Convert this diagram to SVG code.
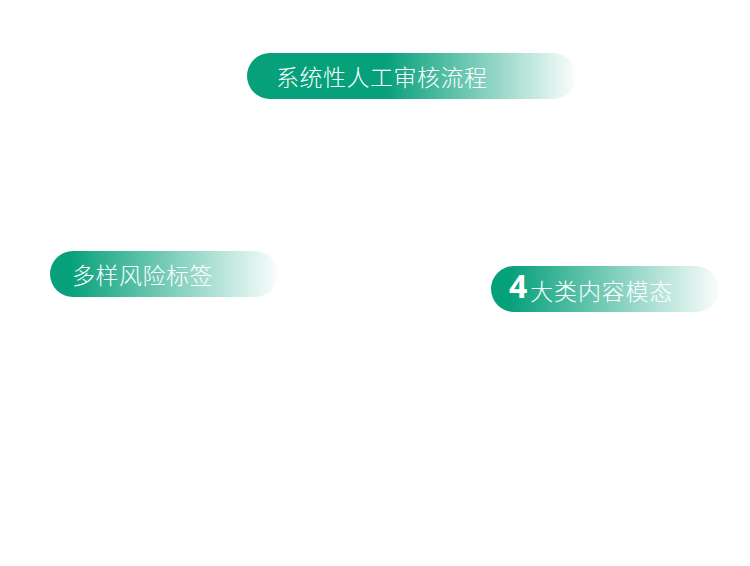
<svg xmlns="http://www.w3.org/2000/svg" width="750" height="566" viewBox="0 0 750 566">
  <defs>
    <linearGradient id="g1" x1="0" y1="0" x2="1" y2="0">
      <stop offset="0" stop-color="#06a07b"/>
      <stop offset="0.42" stop-color="#06a07b"/>
      <stop offset="1" stop-color="#06a07b" stop-opacity="0.02"/>
    </linearGradient>
    <linearGradient id="g2" x1="0" y1="0" x2="1" y2="0">
      <stop offset="0" stop-color="#06a07b"/>
      <stop offset="0.08" stop-color="#06a07b"/>
      <stop offset="1" stop-color="#06a07b" stop-opacity="0.02"/>
    </linearGradient>
    <style>
      .t { font-family: "Noto Sans CJK SC", "Noto Sans", sans-serif; font-size: 23px; font-weight: 300; fill: #ffffff; letter-spacing: 0.5px; }
      .n { font-family: "Noto Sans", "Liberation Sans", sans-serif; font-size: 32px; font-weight: bold; fill: #ffffff; }
      .w { letter-spacing: 0.8px; }
    </style>
  </defs>
  <rect width="750" height="566" fill="#ffffff"/>
  <g id="node-process">
    <rect x="247" y="53" width="329" height="46" rx="23" fill="url(#g1)"/>
    <text class="t" x="276" y="86">系统性人工审核流程</text>
  </g>
  <g id="node-labels">
    <rect x="50" y="251" width="228" height="46" rx="23" fill="url(#g2)"/>
    <text class="t" x="72" y="284">多样风险标签</text>
  </g>
  <g id="node-modalities">
    <rect x="491" y="266" width="228" height="46" rx="23" fill="url(#g2)"/>
    <text x="509" y="298"><tspan class="n">4</tspan><tspan class="t w" dx="3" dy="2">大类内容模态</tspan></text>
  </g>
  <g id="connectors"></g>
</svg>
